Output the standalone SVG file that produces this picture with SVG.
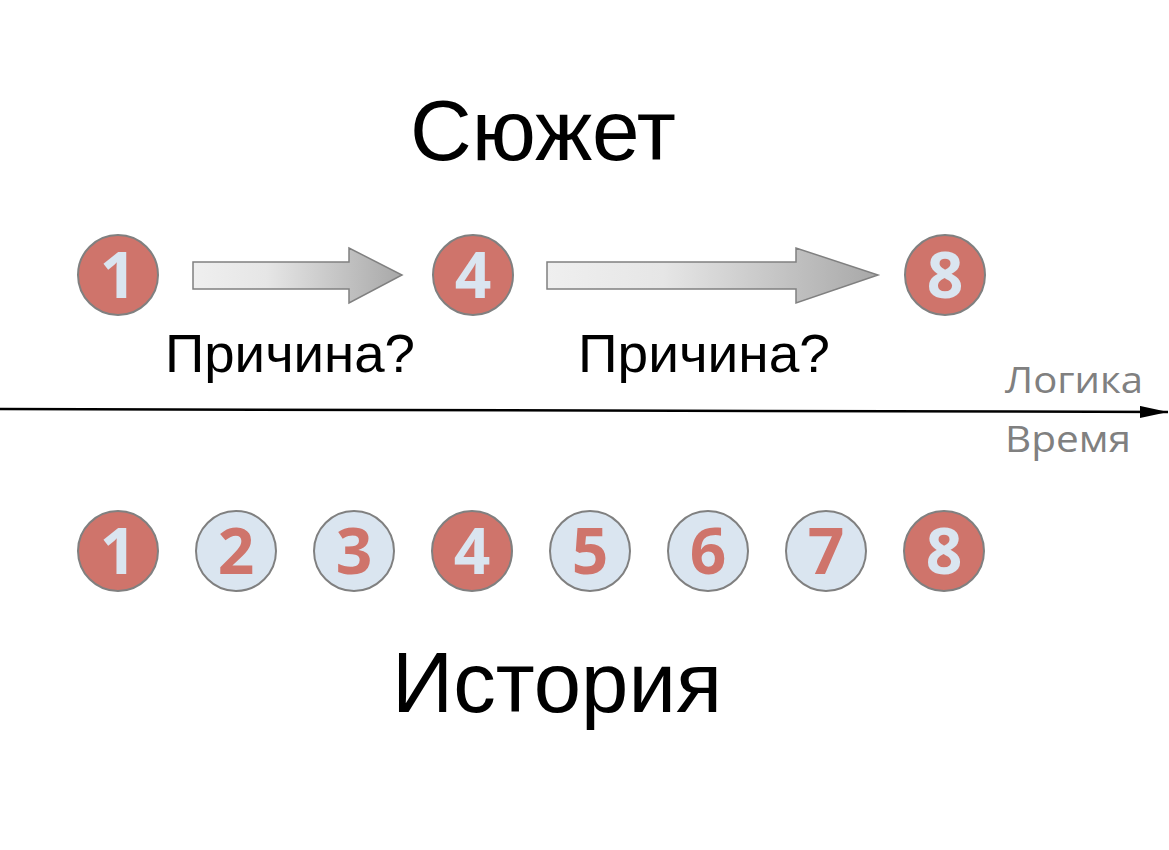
<svg xmlns="http://www.w3.org/2000/svg" width="1169" height="850" viewBox="0 0 1169 850">
<style>
.red{fill:#cf746b;stroke:#808080;stroke-width:2}
.blue{fill:#dae5f0;stroke:#808080;stroke-width:2}
.dl{fill:#dae5f0;font-family:"Open Sans","Liberation Sans",sans-serif;font-weight:bold;font-size:64px;text-anchor:middle}
.dr{fill:#cf746b;font-family:"Open Sans","Liberation Sans",sans-serif;font-weight:bold;font-size:64px;text-anchor:middle}
.title{font-family:"Liberation Sans",sans-serif;fill:#000}
.grey{font-family:"Open Sans","Liberation Sans",sans-serif;fill:#808080;font-size:37px}
.arr{stroke:#808080;stroke-width:1.5}
</style>
<defs>
<linearGradient id="g" x1="0" y1="0" x2="1" y2="0">
<stop offset="0" stop-color="#efefef"/>
<stop offset="0.35" stop-color="#e6e6e6"/>
<stop offset="1" stop-color="#a8a8a8"/>
</linearGradient>
<marker id="ah" markerWidth="28" markerHeight="12" refX="28" refY="6" orient="auto" markerUnits="userSpaceOnUse">
<path d="M0,0 L28,6 L0,12 Z" fill="#000"/>
</marker>
</defs>
<g id="title-top"><text class="title" x="543" y="160" font-size="86" text-anchor="middle" textLength="266" lengthAdjust="spacingAndGlyphs">Сюжет</text></g>
<g id="title-bottom"><text class="title" x="557" y="712" font-size="86" text-anchor="middle" textLength="330" lengthAdjust="spacingAndGlyphs">История</text></g>
<g id="connectors">
<path class="arr" fill="url(#g)" d="M193,262 H349 V248 L402,275 L349,303 V289 H193 Z"/>
<path class="arr" fill="url(#g)" d="M547,262 H796 V248 L878,275 L796,303 V289 H547 Z"/>
<line x1="0" y1="409" x2="1168" y2="412" stroke="#000" stroke-width="2.5" marker-end="url(#ah)"/>
</g>
<g id="label-cause1"><text class="title" x="290" y="372" font-size="54" text-anchor="middle" textLength="250" lengthAdjust="spacingAndGlyphs">Причина?</text></g>
<g id="label-cause2"><text class="title" x="704" y="372" font-size="54" text-anchor="middle" textLength="252" lengthAdjust="spacingAndGlyphs">Причина?</text></g>
<g id="label-logic"><text class="grey" x="1005" y="393" textLength="138" lengthAdjust="spacingAndGlyphs">Логика</text></g>
<g id="label-time"><text class="grey" x="1005" y="452" textLength="126" lengthAdjust="spacingAndGlyphs">Время</text></g>
<g id="top-1"><circle class="red" cx="118" cy="275" r="40"/><text class="dl" x="118" y="298">1</text></g>
<g id="top-4"><circle class="red" cx="473" cy="275" r="40"/><text class="dl" x="473" y="298">4</text></g>
<g id="top-8"><circle class="red" cx="945" cy="275" r="40"/><text class="dl" x="945" y="298">8</text></g>
<g id="b-1"><circle class="red" cx="118" cy="551" r="40"/><text class="dl" x="118" y="574">1</text></g>
<g id="b-2"><circle class="blue" cx="236" cy="551" r="40"/><text class="dr" x="236" y="574">2</text></g>
<g id="b-3"><circle class="blue" cx="354" cy="551" r="40"/><text class="dr" x="354" y="574">3</text></g>
<g id="b-4"><circle class="red" cx="472" cy="551" r="40"/><text class="dl" x="472" y="574">4</text></g>
<g id="b-5"><circle class="blue" cx="590" cy="551" r="40"/><text class="dr" x="590" y="574">5</text></g>
<g id="b-6"><circle class="blue" cx="708" cy="551" r="40"/><text class="dr" x="708" y="574">6</text></g>
<g id="b-7"><circle class="blue" cx="826" cy="551" r="40"/><text class="dr" x="826" y="574">7</text></g>
<g id="b-8"><circle class="red" cx="944" cy="551" r="40"/><text class="dl" x="944" y="574">8</text></g>
</svg>
